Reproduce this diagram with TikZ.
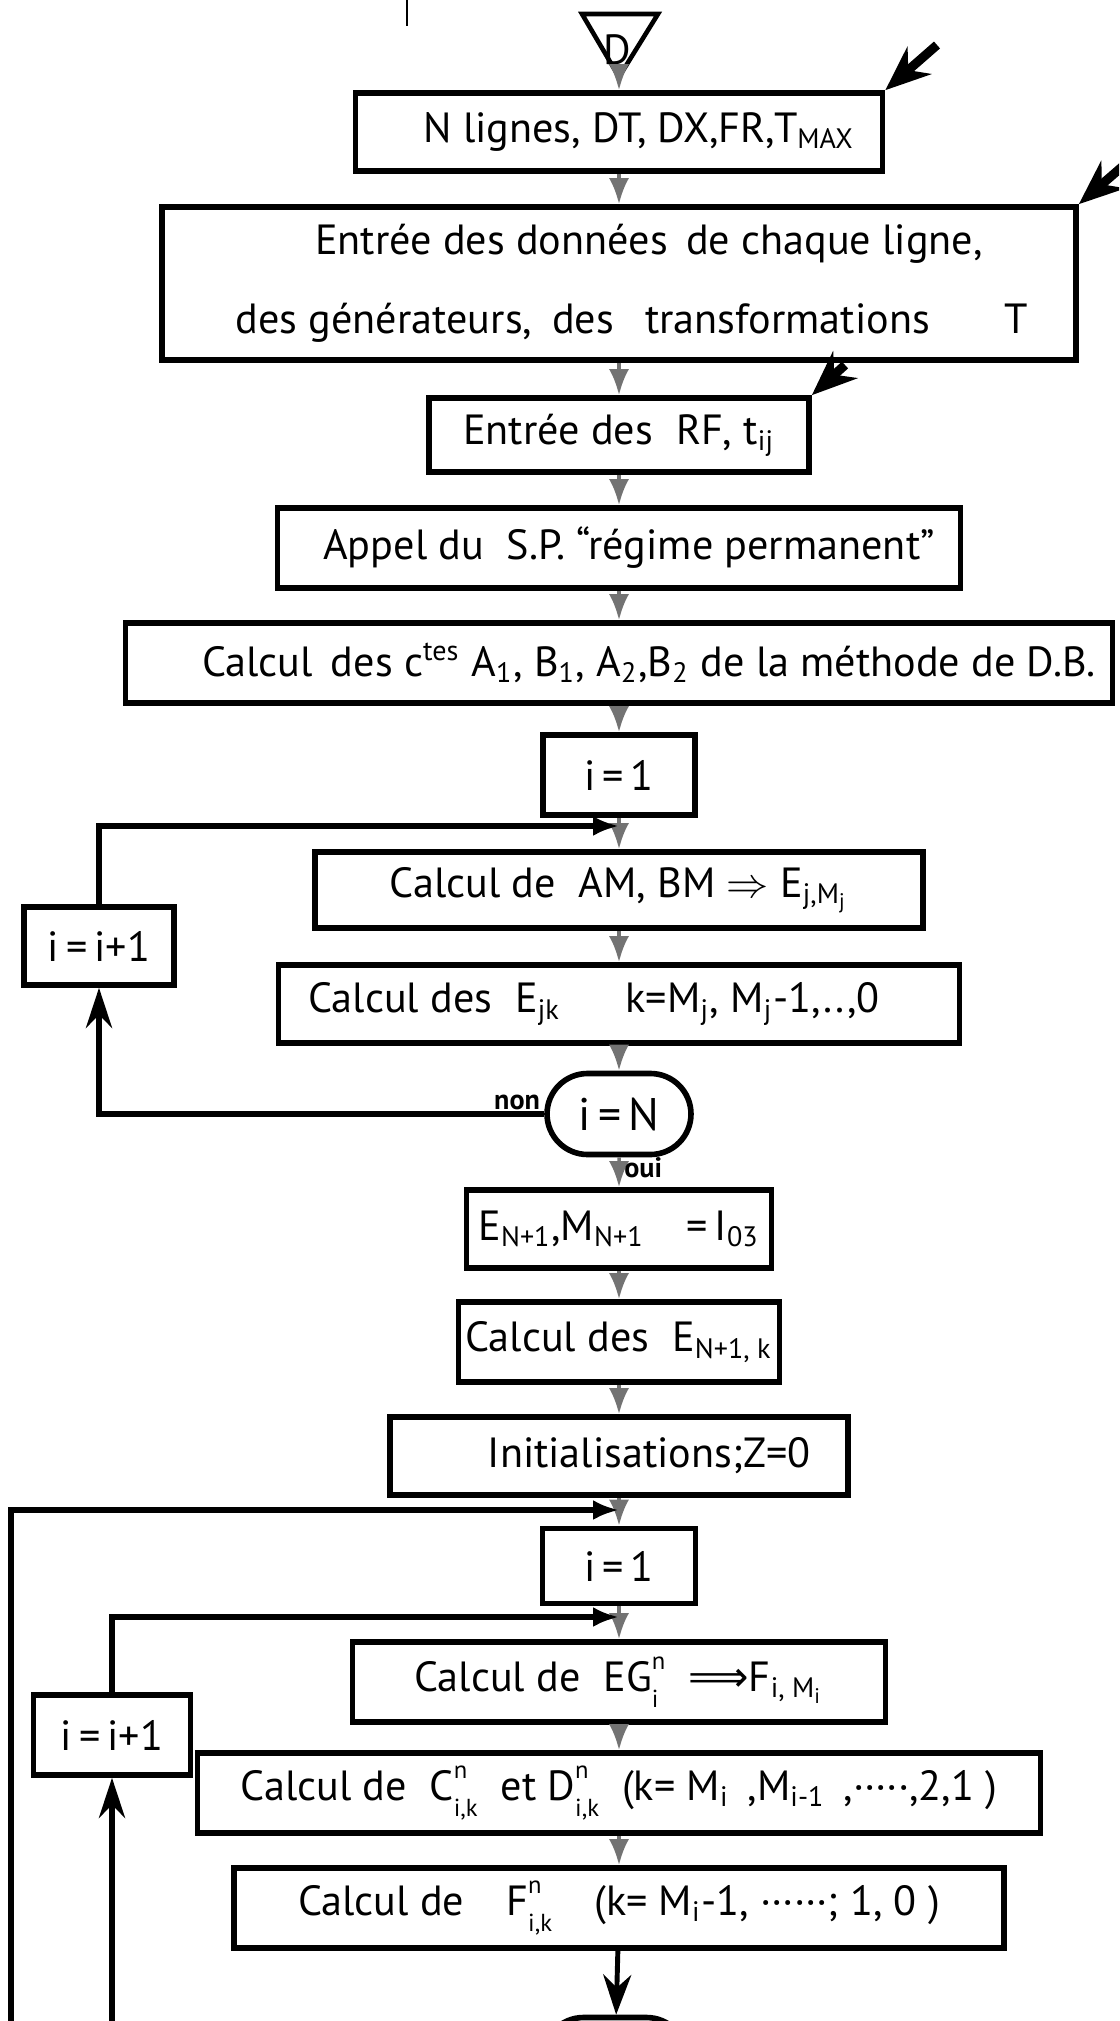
\documentclass[tikz,border=0pt]{standalone}
\usepackage{fontspec}
\setmainfont{PT Sans}
\newfontfamily\symf{DejaVu Sans}
\usetikzlibrary{arrows.meta,shapes.misc}
\newcommand{\idx}[1]{\textsubscript{#1}}
\newcommand{\supsub}[2]{\rlap{\raisebox{1.05ex}{\fontsize{7}{8}\selectfont #1}}\raisebox{-0.75ex}{\fontsize{7}{8}\selectfont #2}}
\begin{document}
\begin{tikzpicture}[
	boite/.style={rectangle, draw, line width=1.6pt, inner sep=2pt, font=\fontsize{12}{14}\selectfont},
	tst/.style={rounded rectangle, draw, line width=1.6pt, minimum width=1.51cm, minimum height=0.81cm, inner sep=1pt, font=\fontsize{13}{15}\selectfont},
	fl/.style={draw=black!55, line width=1pt, -{Latex[length=2.6mm,width=2mm]}},
	bcl/.style={line width=1.6pt},
	fle/.style={line width=2.6pt, -{Stealth[length=4.5mm,width=3.6mm]}},
	etq/.style={font=\fontsize{8}{9}\selectfont\bfseries, inner sep=1pt}]
	\useasboundingbox (0,0) rectangle (11.19,-20.21);
	\clip (0,0) rectangle (11.19,-20.21);
	%---------------- DEBUT ----------------
	\draw[line width=0.6pt] (4.07,0) -- (4.07,-0.26);
	\draw[line width=1.3pt] (5.82,-0.14) -- (6.58,-0.14) -- (6.19,-0.77) -- cycle;
	\coordinate (pD) at (6.19,-0.77);
	\node[font=\fontsize{12}{14}\selectfont] (D) at (6.17,-0.5) {D};
	%---------------- DONNEES ----------------
	\node[boite, minimum width=5.27cm, minimum height=0.78cm] (lig) at (6.19,-1.32) {\hspace*{0.4cm}N lignes, DT, DX,FR,T\idx{MAX}};
	\node[boite, minimum width=9.14cm, minimum height=1.53cm, align=center] (don) at (6.19,-2.835)
		{\hspace*{0.6cm}Entrée des données\, de chaque ligne,\\[0.3cm]\hspace*{0.26cm}des générateurs,\hspace{0.2cm}des\hspace{0.2cm} transformations\hspace{0.75cm}T};
	\node[boite, minimum width=3.8cm, minimum height=0.74cm] (rf) at (6.19,-4.35) {Entrée des\; RF, t\idx{ij}};
	\node[boite, minimum width=6.83cm, minimum height=0.8cm] (sp) at (6.19,-5.48) {\hspace*{0.2cm}Appel du\; S.P. ``régime permanent''};
	\node[boite, minimum width=9.87cm, minimum height=0.8cm] (cte) at (6.19,-6.63)
		{\hspace*{0.6cm}Calcul\, des c\textsuperscript{tes} A\idx{1}, B\idx{1}, A\idx{2},B\idx{2} de la méthode de D.B.};
	%---------------- BOUCLE E ----------------
	\node[boite, minimum width=1.52cm, minimum height=0.8cm] (ia) at (6.19,-7.75) {i\,=\,1};
	\node[boite, minimum width=6.08cm, minimum height=0.76cm] (ambm) at (6.19,-8.9) {Calcul de\; AM, BM $\Rightarrow$ E\idx{j,M\idx{j}}};
	\node[boite, minimum width=6.81cm, minimum height=0.78cm] (ejk) at (6.19,-10.04) {Calcul des\; E\idx{jk}\quad\; k=M\idx{j}, M\idx{j}-1,..,0\hspace*{0.5cm}};
	\node[tst] (test) at (6.19,-11.14) {i\,=\,N};
	\node[boite, minimum width=1.5cm, minimum height=0.78cm] (inc1) at (0.99,-9.46) {i\,=\,i+1};
	\draw[fl] (pD) -- (lig);
	\draw[fl] (lig) -- (don);
	\draw[fl] (don) -- (rf);
	\draw[fl] (rf) -- (sp);
	\draw[fl] (sp) -- (cte);
	\draw[fl] (cte) -- (ia);
	\draw[fl] (ia) -- (ambm);
	\draw[fl] (ambm) -- (ejk);
	\draw[fl] (ejk) -- (test);
	\coordinate (r1) at (6.19,-8.26);
	\draw[bcl, -{Stealth[length=4mm,width=2.6mm]}] (test.west) -| (inc1.south);
	\draw[bcl, -{Latex[length=2.6mm,width=2mm]}] (inc1.north) |- (r1);
	\node[etq, above left] (non) at (test.west) {non};
	%---------------- SUITE ----------------
	\node[boite, minimum width=3.05cm, minimum height=0.78cm] (en1) at (6.19,-12.29) {E\idx{N+1},M\idx{N+1}\quad =\,I\idx{03}};
	\node[boite, minimum width=3.05cm, minimum height=0.8cm] (enk) at (6.19,-13.42) {Calcul des\; E\idx{N+1, k}};
	\node[boite, minimum width=4.58cm, minimum height=0.78cm] (init) at (6.19,-14.56) {\hspace*{0.6cm}Initialisations;Z=0};
	\draw[fl] (test) -- node[etq, right, pos=0.35] (oui) {oui} (en1);
	\draw[fl] (en1) -- (enk);
	\draw[fl] (enk) -- (init);
	%---------------- BOUCLE F ----------------
	\node[boite, minimum width=1.53cm, minimum height=0.75cm] (ib) at (6.19,-15.66) {i\,=\,1};
	\node[boite, minimum width=5.33cm, minimum height=0.8cm] (eg) at (6.19,-16.82) {Calcul de\; EG\supsub{n}{i}\hspace{0.3cm}{\symf ⟹}F\idx{i, M\idx{i}}};
	\node[boite, minimum width=8.43cm, minimum height=0.8cm] (cd) at (6.19,-17.93)
		{Calcul de\; C\supsub{n}{i,k}\; et D\supsub{n}{i,k}\; (k= M\idx{i}\, ,M\idx{i-1}\, ,·····,2,1 )};
	\node[boite, minimum width=7.7cm, minimum height=0.8cm] (fik) at (6.19,-19.08)
		{Calcul de\quad F\supsub{n}{i,k}\quad (k= M\idx{i}-1, ······; 1, 0 )};
	\node[tst] (suite) at (6.15,-20.58) {};
	\node[boite, minimum width=1.57cm, minimum height=0.8cm] (inc2) at (1.12,-17.35) {i\,=\,i+1};
	\draw[fl] (init) -- (ib);
	\draw[fl] (ib) -- (eg);
	\draw[fl] (eg) -- (cd);
	\draw[fl] (cd) -- (fik);
	\draw[line width=1.4pt, -{Stealth[length=4mm,width=2.8mm]}] (fik) -- (suite);
	\coordinate (r0) at (6.19,-15.1);
	\coordinate (r2) at (6.19,-16.17);
	\coordinate (bas0) at (0.11,-20.4);
	\coordinate (bas1) at (1.12,-20.4);
	\draw[bcl, -{Latex[length=2.6mm,width=2mm]}] (bas0) |- (r0);
	\draw[bcl, -{Stealth[length=4mm,width=2.6mm]}] (bas1) -- (inc2.south);
	\draw[bcl, -{Latex[length=2.6mm,width=2mm]}] (inc2.north) |- (r2);
	%---------------- CARTES ----------------
	\coordinate (q1) at (9.37,-0.45);
	\coordinate (q2) at (11.3,-1.6);
	\coordinate (q3) at (8.45,-3.65);
	\draw[fle] (q1) -- (lig.north east);
	\draw[fle] (q2) -- (don.north east);
	\draw[fle] (q3) -- (rf.north east);
\end{tikzpicture}
\end{document}
